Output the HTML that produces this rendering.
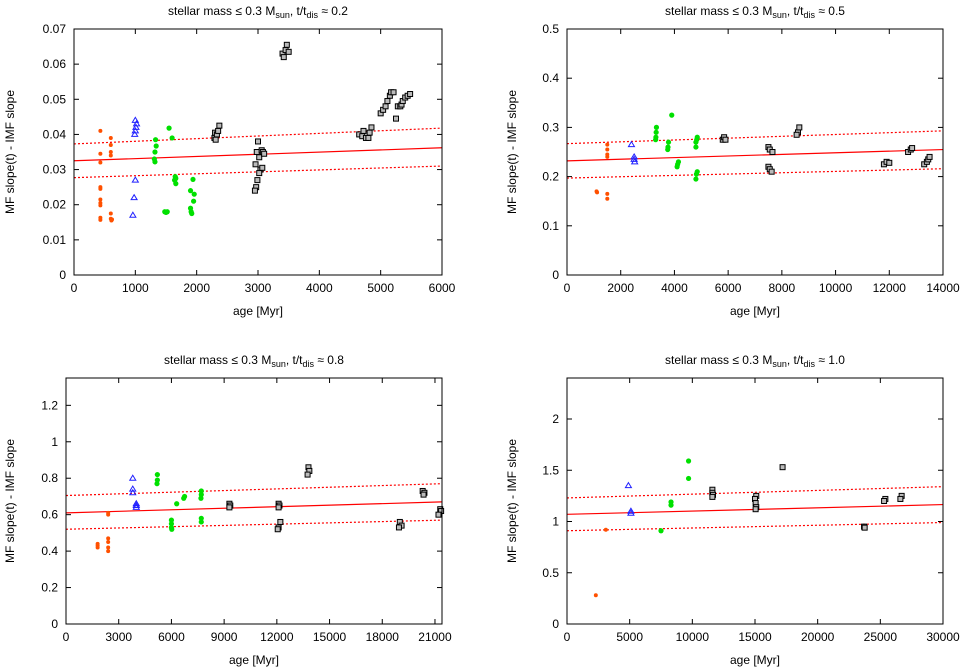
<!DOCTYPE html>
<html><head><meta charset="utf-8"><style>
body{margin:0;background:#fff}
svg{display:block;font-family:"Liberation Sans",sans-serif}
</style></head><body>
<svg id="c" width="965" height="670"></svg>
<script>
// ---- data ----
const titles=["0.2","0.5","0.8","1.0"];
const xMax=[6000,14000,21400,30000];
const yMax=[0.07,0.5,1.35,2.4];
const xTicks=[[0,1000,2000,3000,4000,5000,6000],[0,2000,4000,6000,8000,10000,12000,14000],[0,3000,6000,9000,12000,15000,18000,21000],[0,5000,10000,15000,20000,25000,30000]];
const yTicks=[[0,0.01,0.02,0.03,0.04,0.05,0.06,0.07],[0,0.1,0.2,0.3,0.4,0.5],[0,0.2,0.4,0.6,0.8,1,1.2],[0,0.5,1,1.5,2]];
const yTickLabels=[["0","0.01","0.02","0.03","0.04","0.05","0.06","0.07"],["0","0.1","0.2","0.3","0.4","0.5"],["0","0.2","0.4","0.6","0.8","1","1.2"],["0","0.5","1","1.5","2"]];
const fitMid=[[0.0325,0.0362],[0.232,0.255],[0.61,0.67],[1.07,1.165]];
const fitUp=[[0.0373,0.0418],[0.267,0.293],[0.705,0.77],[1.23,1.34]];
const fitLo=[[0.0277,0.031],[0.197,0.216],[0.52,0.57],[0.91,0.99]];
const orange=[
[[430,.041],[430,.0345],[430,.032],[430,.025],[430,.0245],[430,.0215],[430,.0205],[430,.0198],[430,.0163],[430,.0157],[600,.039],[600,.037],[600,.035],[600,.034],[600,.0175],[600,.016],[610,.0155],[620,.0158]],
[[1100,.17],[1120,.168],[1500,.265],[1500,.255],[1500,.245],[1500,.24],[1500,.165],[1500,.155]],
[[1800,.44],[1800,.43],[1800,.42],[2400,.61],[2400,.6],[2400,.47],[2400,.45],[2400,.42],[2400,.40]],
[[2300,.28],[3100,.92]]];
const blue=[
[[1000,.044],[1020,.043],[1010,.042],[1000,.041],[990,.040],[1000,.027],[980,.022],[960,.017]],
[[2400,.265],[2500,.24],[2500,.235],[2520,.23]],
[[3800,.80],[3800,.74],[3800,.72],[4000,.66],[4000,.65],[4000,.64]],
[[4900,1.35],[5100,1.1],[5100,1.08]]];
const green=[
[[1330,.0385],[1340,.0367],[1320,.035],[1310,.033],[1320,.0322],[1480,.018],[1500,.0178],[1520,.018],[1550,.0418],[1600,.039],[1650,.028],[1660,.0275],[1640,.027],[1660,.026],[1940,.0272],[1900,.024],[1960,.023],[1950,.021],[1900,.019],[1910,.018],[1920,.0175]],
[[3330,.30],[3320,.29],[3310,.28],[3300,.275],[3780,.27],[3760,.26],[3750,.255],[3900,.325],[4150,.23],[4120,.225],[4100,.22],[4850,.28],[4830,.275],[4800,.27],[4800,.26],[4850,.21],[4820,.205],[4800,.195]],
[[5200,.82],[5200,.79],[5180,.77],[6000,.57],[6000,.55],[6000,.53],[6020,.52],[6300,.66],[6700,.69],[6750,.70],[7700,.73],[7700,.71],[7680,.69],[7700,.58],[7700,.56]],
[[7500,.91],[8300,1.19],[8300,1.16],[9700,1.59],[9700,1.42]]];
const black=[
[[2300,.0405],[2290,.039],[2310,.0385],[2330,.040],[2350,.041],[2370,.0425],[3000,.038],[2980,.035],[3020,.0335],[2960,.0315],[3040,.030],[3020,.029],[2990,.027],[2970,.025],[2950,.024],[3060,.0355],[3080,.035],[3100,.0345],[3070,.0305],[3400,.063],[3420,.062],[3450,.064],[3470,.0655],[3500,.0635],[4650,.040],[4700,.0395],[4720,.041],[4760,.039],[4800,.039],[4820,.0405],[4850,.042],[5000,.046],[5040,.047],[5080,.048],[5110,.0495],[5150,.051],[5170,.052],[5210,.052],[5250,.0445],[5280,.048],[5320,.048],[5340,.0485],[5360,.0495],[5400,.0505],[5440,.051],[5480,.0515]],
[[5800,.275],[5850,.28],[5900,.275],[7500,.26],[7550,.255],[7650,.25],[7500,.22],[7550,.215],[7620,.21],[8600,.29],[8650,.30],[8550,.285],[11800,.225],[11900,.23],[12000,.228],[12700,.25],[12800,.255],[12850,.258],[13300,.225],[13400,.23],[13450,.235],[13500,.24]],
[[9300,.66],[9350,.65],[9300,.64],[12100,.66],[12150,.65],[12100,.64],[12200,.56],[12100,.53],[12050,.52],[13800,.86],[13850,.84],[13750,.82],[19000,.56],[19100,.54],[18950,.53],[20300,.73],[20400,.72],[20350,.71],[21300,.63],[21350,.62],[21200,.60]],
[[11600,1.31],[11600,1.28],[11650,1.26],[11600,1.24],[15100,1.25],[15000,1.22],[15050,1.18],[15100,1.14],[15050,1.12],[17200,1.53],[23700,.95],[23750,.94],[25400,1.22],[25300,1.2],[26700,1.25],[26600,1.22]]];

// ---- drawing ----
const NS="http://www.w3.org/2000/svg";
const svg=document.getElementById('c');
function mk(tag,attrs,parent){const e=document.createElementNS(NS,tag);for(const k in attrs)e.setAttribute(k,attrs[k]);(parent||svg).appendChild(e);return e;}
const boxes=[[74,442,29,275],[567,943,29,275],[66,442,378,624],[567,943,378,624]];
for(let p=0;p<4;p++){
  const [x0,x1,y0,y1]=boxes[p];
  const sx=v=>x0+(x1-x0)*v/xMax[p];
  const sy=v=>y1-(y1-y0)*v/yMax[p];
  const g=mk('g',{});
  
  
  const t=mk('text',{x:(x0+x1)/2,y:y0-14,'text-anchor':'middle','font-size':12},g);
  
  
  t.innerHTML='stellar mass ≤ 0.3 M<tspan font-size="9" dy="3">sun</tspan><tspan dy="-3">, t/t</tspan><tspan font-size="9" dy="3">dis</tspan><tspan dy="-3"> ≈ '+titles[p]+'</tspan>';
  xTicks[p].forEach(v=>{const x=sx(v);
    mk('line',{x1:x,x2:x,y1:y1,y2:y1-5,stroke:'#000'},g);mk('line',{x1:x,x2:x,y1:y0,y2:y0+5,stroke:'#000'},g);
    const l=mk('text',{x:x,y:y1+17,'text-anchor':'middle','font-size':12},g);l.textContent=v;
    
    });
  yTicks[p].forEach((v,i)=>{const y=sy(v);
    mk('line',{x1:x0,x2:x0+5,y1:y,y2:y,stroke:'#000'},g);mk('line',{x1:x1,x2:x1-5,y1:y,y2:y,stroke:'#000'},g);
    const l=mk('text',{x:x0-8,y:y+4,'text-anchor':'end','font-size':12},g);l.textContent=yTickLabels[p][i];
    
    });
  const xl=mk('text',{x:(x0+x1)/2,y:y1+40,'text-anchor':'middle','font-size':12},g);xl.textContent='age [Myr]';
  
  
  const ylx=p%2==0?14:x0-51;const ylyc=(y0+y1)/2;
  const yl=mk('text',{x:ylx,y:ylyc,'text-anchor':'middle','font-size':12,transform:`rotate(-90 ${ylx} ${ylyc})`},g);yl.textContent='MF slope(t) - IMF slope';
  
  
  [[fitMid,'none','fit-line'],[fitUp,'2,2','fit-upper'],[fitLo,'2,2','fit-lower']].forEach(([f,d,n])=>{
    const l=mk('line',{x1:x0,x2:x1,y1:sy(f[p][0]),y2:sy(f[p][1]),stroke:'#f00','stroke-width':1.2,'stroke-dasharray':d},g);
    
    });
  orange[p].forEach(([a,b])=>{const c=mk('circle',{cx:sx(a),cy:sy(b),r:2,fill:'#ff5000'},g);
    
    });
  blue[p].forEach(([a,b])=>{const x=sx(a),y=sy(b);const c=mk('path',{d:`M${x} ${y-3}L${x+3} ${y+2}L${x-3} ${y+2}Z`,fill:'none',stroke:'#2020ff','stroke-width':1},g);
    
    });
  green[p].forEach(([a,b])=>{const c=mk('circle',{cx:sx(a),cy:sy(b),r:2.6,fill:'#00e000'},g);
    
    });
  black[p].forEach(([a,b])=>{const c=mk('rect',{x:sx(a)-2.5,y:sy(b)-2.5,width:5,height:5,fill:'#bbb',stroke:'#000','stroke-width':1},g);
    
    });
  const fr=mk('rect',{x:x0,y:y0,width:x1-x0,height:y1-y0,fill:'none',stroke:'#000','stroke-width':1},g);
  
  
}
</script>
</body></html>
